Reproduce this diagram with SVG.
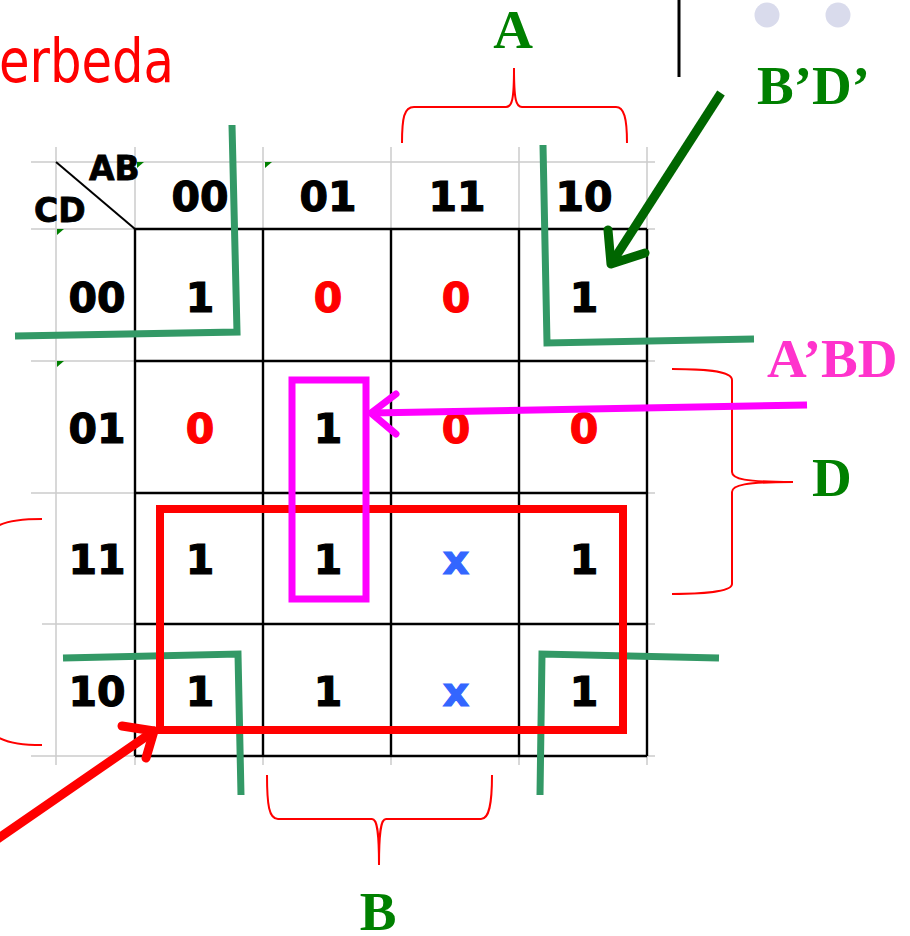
<svg xmlns="http://www.w3.org/2000/svg" width="910" height="936" viewBox="0 0 910 936">
  <style>
    .grey { stroke: #cccccc; stroke-width: 1.5; fill: none; }
    .grid { stroke: #000000; stroke-width: 2.4; fill: none; }
    .val { font-family: "DejaVu Sans", "Verdana", sans-serif; font-weight: bold; font-size: 41px; text-anchor: middle; stroke-width: 1.2; }
    .one { fill: #000000; stroke: #000000; }
    .zero { fill: #ff0000; stroke: #ff0000; }
    .dc { fill: #3366ff; stroke: #3366ff; }
    .corner { font-family: "DejaVu Sans", sans-serif; font-weight: bold; font-size: 33px; fill: #000000; stroke: #000000; stroke-width: 0.8; }
    .lbl { font-family: "Liberation Serif", "Times New Roman", serif; font-weight: bold; font-size: 55px; }
    .brace { stroke: #ff0000; stroke-width: 2; fill: none; }
    .wrap { stroke: #339966; stroke-width: 7; fill: none; stroke-linejoin: miter; }
    .tick { fill: #008000; }
  </style>

  <rect width="910" height="936" fill="#ffffff"/>

  <!-- title fragment -->
  <text x="-1" y="82" font-family="DejaVu Sans, sans-serif" font-size="60" fill="#ff0000" textLength="175" lengthAdjust="spacingAndGlyphs">erbeda</text>

  <!-- slide decoration -->
  <g id="decor">
    <line x1="679" y1="0" x2="679" y2="77" stroke="#000000" stroke-width="3"/>
    <circle cx="767" cy="15" r="12.5" fill="#d9dbec"/>
    <circle cx="838" cy="15" r="12.5" fill="#d9dbec"/>
  </g>

  <!-- spreadsheet grid -->
  <g id="sheet-grid">
    <path class="grey" d="M31,162 H655 M31,229 H655 M31,361 H655 M31,493 H655 M42,624 H655 M31,756 H655"/>
    <path class="grey" d="M56,147 V765 M135,147 V765 M263,147 V765 M391,147 V765 M519,147 V765 M647,147 V765"/>
    <polygon class="tick" points="137,162 144,162 137,168"/>
    <polygon class="tick" points="265,162 272,162 265,168"/>
    <polygon class="tick" points="57,229 64,229 57,235"/>
    <polygon class="tick" points="57,361 64,361 57,367"/>
  </g>

  <!-- K-map table -->
  <g id="kmap">
    <path class="grid" d="M135,229 H647 M135,361 H647 M135,493 H647 M135,624 H647 M135,756 H647"/>
    <path class="grid" d="M135,229 V756 M263,229 V756 M391,229 V756 M519,229 V756 M647,229 V756"/>
    <line x1="56" y1="162" x2="135" y2="229" stroke="#000000" stroke-width="2"/>
    <text class="corner" x="89" y="180">AB</text>
    <text class="corner" x="34" y="222">CD</text>
  </g>

  <g id="col-headers" class="val one">
    <text x="200" y="211">00</text>
    <text x="328" y="211">01</text>
    <text x="457" y="211">11</text>
    <text x="584" y="211">10</text>
  </g>

  <g id="row-headers" class="val one">
    <text x="97" y="312">00</text>
    <text x="97" y="443">01</text>
    <text x="97" y="574">11</text>
    <text x="97" y="706">10</text>
  </g>

  <g id="cells" class="val">
    <text class="one" x="200" y="312">1</text>
    <text class="zero" x="328" y="312">0</text>
    <text class="zero" x="456" y="312">0</text>
    <text class="one" x="584" y="312">1</text>

    <text class="zero" x="200" y="443">0</text>
    <text class="one" x="328" y="443">1</text>
    <text class="zero" x="456" y="443">0</text>
    <text class="zero" x="584" y="443">0</text>

    <text class="one" x="200" y="574">1</text>
    <text class="one" x="328" y="574">1</text>
    <text class="dc" x="456" y="574">x</text>
    <text class="one" x="584" y="574">1</text>

    <text class="one" x="200" y="706">1</text>
    <text class="one" x="328" y="706">1</text>
    <text class="dc" x="456" y="706">x</text>
    <text class="one" x="584" y="706">1</text>
  </g>

  <!-- variable braces -->
  <g id="brace-A">
    <path class="brace" d="M402,143 C402,118 404,107 414,107 L506,107 C512,107 514,100 514,68 C514,100 516,107 522,107 L616,107 C624,107 627,118 627,143"/>
    <text class="lbl" x="513" y="48" fill="#008000" text-anchor="middle">A</text>
  </g>
  <g id="brace-B">
    <path class="brace" d="M267,775 C267,805 269,819 278,819 L372,819 C377,819 379,830 379,865 C379,830 381,819 386,819 L481,819 C489,819 492,805 492,775"/>
    <text class="lbl" x="378" y="930" fill="#008000" text-anchor="middle">B</text>
  </g>
  <g id="brace-D">
    <path class="brace" d="M672,369 C700,369 732,370 732,380 L732,472 C732,479 745,482 793,482 C745,482 732,485 732,492 L732,584 C732,592 700,594 672,594"/>
    <text class="lbl" x="812" y="496" fill="#008000">D</text>
  </g>
  <g id="brace-C">
    <path class="brace" d="M42,519 C20,519 5,521 -4,527 L-4,736 C5,742 20,745 42,745"/>
  </g>

  <!-- groupings -->
  <g id="group-BpDp">
    <polyline class="wrap" points="232,125 237,332 15,336"/>
    <polyline class="wrap" points="543,145 547,343 754,339"/>
    <polyline class="wrap" points="63,658 238,654 241,795"/>
    <polyline class="wrap" points="719,658 542,654 540,795"/>
    <text class="lbl" x="757" y="104" fill="#008000">B’D’</text>
  </g>
  <g id="group-D">
    <rect x="160" y="509" width="463" height="221" fill="none" stroke="#ff0000" stroke-width="8"/>
  </g>
  <g id="group-ApBD">
    <rect x="292" y="380" width="74" height="219" fill="none" stroke="#ff00ff" stroke-width="7"/>
    <text class="lbl" x="767" y="377" fill="#ff33cc">A’BD</text>
  </g>

  <!-- pointers -->
  <g id="connectors" fill="none" stroke-linecap="round" stroke-linejoin="round">
    <g stroke="#006600" stroke-width="9">
      <line x1="721" y1="93" x2="611" y2="264" stroke-linecap="butt"/>
      <polyline points="608,230 611,264 645,253"/>
    </g>
    <g stroke="#ff00ff" stroke-width="7">
      <line x1="807" y1="405" x2="371" y2="413" stroke-linecap="butt"/>
      <polyline points="396,394 371,413 396,434"/>
    </g>
    <g stroke="#ff0000" stroke-width="9">
      <line x1="-4" y1="840" x2="154" y2="731"/>
      <polyline points="122,726 154,731 146,758"/>
    </g>
  </g>
</svg>
